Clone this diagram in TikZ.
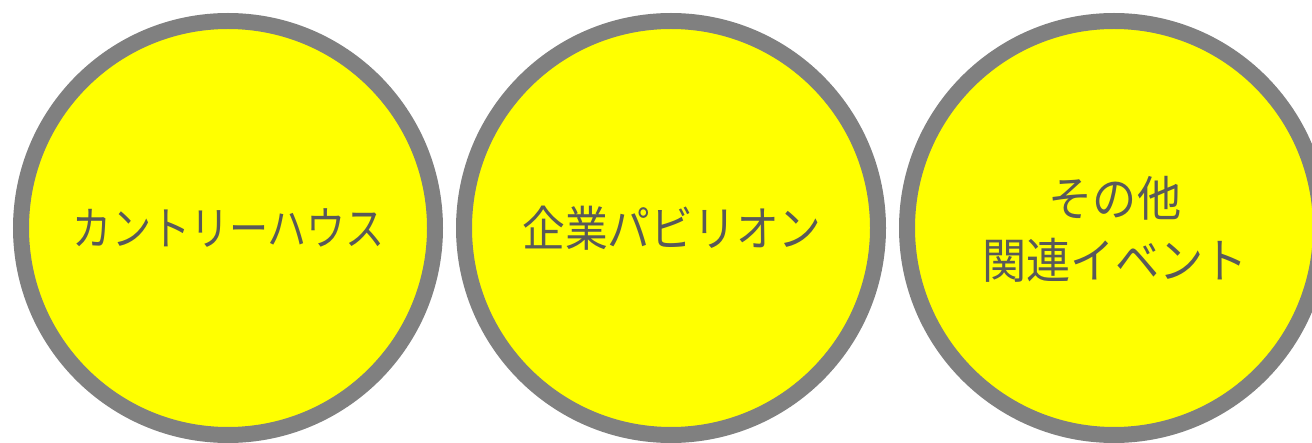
\documentclass[tikz,border=0pt]{standalone}
\usepackage{graphicx}
\usepackage{fontspec}
\setmainfont{Noto Sans CJK JP}
\definecolor{ringgray}{HTML}{808080}
\definecolor{fillyellow}{HTML}{FFFF00}
\definecolor{textgray}{HTML}{595959}
\newcommand{\narrow}[2]{\scalebox{#1}[1]{#2}}
\tikzset{
  ring/.style={circle, draw=ringgray, fill=fillyellow, line width=16pt, minimum size=414pt, inner sep=0pt},
  label/.style={text=textgray, align=center, inner sep=0pt},
}
\begin{document}
\begin{tikzpicture}[x=1pt,y=1pt]
\useasboundingbox (0,0) rectangle (1312,442);
\clip (0,0) rectangle (1312,442);
\node[ring] (c1) at (228,214) {};
\node[ring] (c2) at (671,214) {};
\node[ring] (c3) at (1114,214) {};
\node[label, font=\fontsize{46}{62}\selectfont] (t1) at (229,214) {\narrow{0.85}{カントリーハウス}};
\node[label, font=\fontsize{48}{62}\selectfont] (t2) at (672,214) {\narrow{0.89}{企業パビリオン}};
\node[label, font=\fontsize{48}{62}\selectfont] (t3) at (1115,213) {\narrow{0.92}{その他}\\\narrow{0.92}{関連イベント}};
\end{tikzpicture}
\end{document}
